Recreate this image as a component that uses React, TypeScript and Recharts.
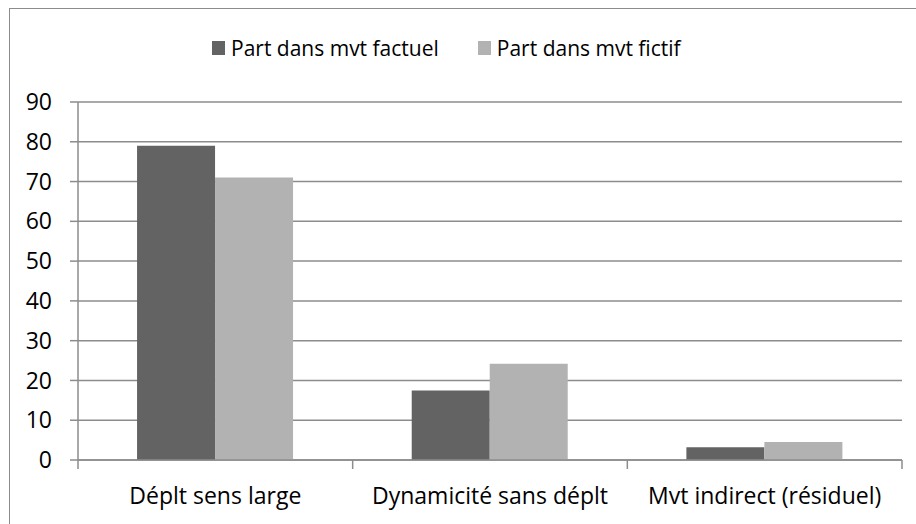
import React from "react";
import { Bar, BarChart, CartesianGrid, Legend, XAxis, YAxis } from "recharts";

const categories = ["Déplt sens large", "Dynamicité sans déplt", "Mvt indirect (résiduel)"];
const factuel = [79, 17.5, 3.2];
const fictif = [71, 24.2, 4.5];
const yTicks = [0, 10, 20, 30, 40, 50, 60, 70, 80, 90];

const data = categories.map((name, i) => ({
	name,
	factuel: factuel[i],
	fictif: fictif[i],
}));

const GRID = "#8c8c8c";
const FONT = "'Open Sans', sans-serif";

// x axis labels + the little tick marks on the category boundaries
const CategoryTick = (props: any) => {
	const { x, y, payload, index, width } = props;
	const half = payload.offset ?? width / categories.length / 2;
	const last = index === categories.length - 1;
	return (
		<g>
			<line x1={x - half} x2={x - half} y1={y - 9} y2={y} stroke={GRID} strokeWidth={1.5} />
			{last && (
				<line x1={x + half} x2={x + half} y1={y - 9} y2={y} stroke={GRID} strokeWidth={1.5} />
			)}
			<text x={x} y={y + 35} textAnchor="middle" fill="#000" fontSize={23} fontFamily={FONT}>
				{payload.value}
			</text>
		</g>
	);
};

const LegendContent = (props: any) => {
	const { payload } = props;
	return (
		<div style={{ display: "flex", alignItems: "center", fontFamily: FONT, fontSize: 21, lineHeight: "28px", color: "#000" }}>
			{payload.map((p: any, i: number) => (
				<div key={i} style={{ display: "flex", alignItems: "center", marginRight: i === 0 ? 39 : 0 }}>
					<span style={{ display: "inline-block", width: 13, height: 14, background: p.color, marginRight: 6 }} />
					<span style={{ whiteSpace: "nowrap" }}>{p.value}</span>
				</div>
			))}
		</div>
	);
};

export default function App() {
	return (
		<div style={{ position: "absolute", left: 0, top: 0, width: 916, height: 524, overflow: "hidden", background: "#fff" }}>
			<div style={{ position: "absolute", left: 9, top: 8, width: 1000, height: 1000, border: `1.5px solid ${GRID}` }} />
			<BarChart
				width={916}
				height={524}
				data={data}
				margin={{ top: 102, right: 14, left: 0, bottom: 0 }}
				barCategoryGap="21.5%"
				barGap={0}
				style={{ position: "absolute", left: 0, top: 0 }}>
				<CartesianGrid vertical={false} stroke={GRID} strokeWidth={1.5} />
				<XAxis
					dataKey="name"
					height={64}
					axisLine={{ stroke: GRID, strokeWidth: 1.5 }}
					tickLine={false}
					tickSize={9}
					tickMargin={0}
					interval={0}
					tick={<CategoryTick />}
				/>
				<YAxis
					width={78}
					domain={[0, 90]}
					ticks={yTicks}
					interval={0}
					axisLine={{ stroke: GRID, strokeWidth: 1.5 }}
					tickLine={{ stroke: GRID, strokeWidth: 1.5 }}
					tickSize={8}
					tickMargin={18}
					tick={{ fill: "#000", fontSize: 23, fontFamily: FONT }}
				/>
				<Legend
					layout="horizontal"
					verticalAlign="middle"
					align="center"
					wrapperStyle={{ left: 212, top: 34, width: "auto" }}
					content={<LegendContent />}
				/>
				<Bar dataKey="factuel" name="Part dans mvt factuel" fill="#636363" isAnimationActive={false} />
				<Bar dataKey="fictif" name="Part dans mvt fictif" fill="#b2b2b2" isAnimationActive={false} />
			</BarChart>
		</div>
	);
}
